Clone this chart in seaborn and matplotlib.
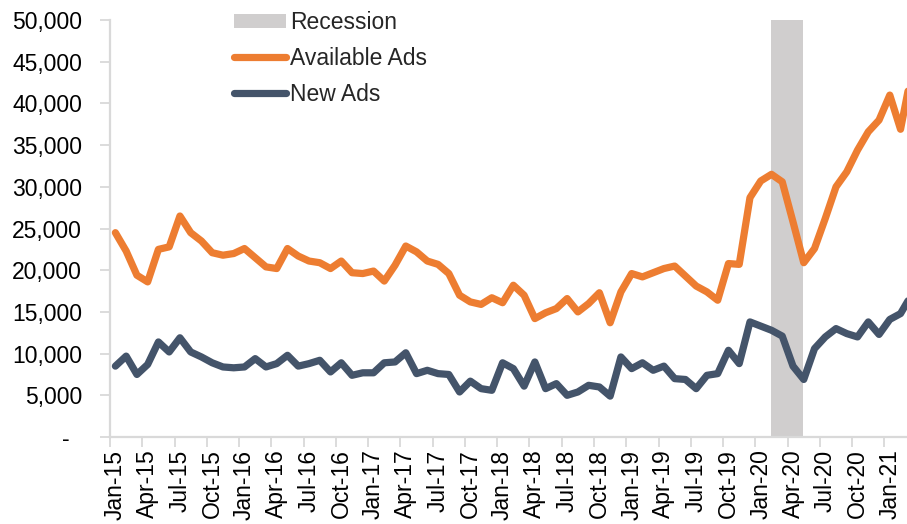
import matplotlib
matplotlib.use("Agg")
import matplotlib.pyplot as plt
from matplotlib.lines import Line2D
from matplotlib.patches import Patch
from matplotlib.ticker import FixedLocator, FuncFormatter
import numpy as np
import pandas as pd
import seaborn as sns

# Monthly ad counts, Jan-15 through Mar-21
months = pd.date_range("2015-01-01", "2021-03-01", freq="MS").strftime("%b-%y").tolist()

available_ads = [
    24500, 22300, 19400, 18600, 22500, 22800, 26500, 24500, 23500, 22100, 21800, 22000,
    22600, 21500, 20400, 20200, 22600, 21700, 21100, 20900, 20200, 21100, 19700, 19600,
    19900, 18700, 20600, 22900, 22200, 21100, 20700, 19600, 17000, 16200, 15900, 16700,
    16100, 18200, 17000, 14200, 14900, 15400, 16600, 15000, 16000, 17300, 13700, 17400,
    19600, 19200, 19700, 20200, 20500, 19300, 18100, 17400, 16400, 20800, 20700, 28700,
    30700, 31500, 30600, 25800, 20900, 22600, 26200, 30000, 31800, 34400, 36600, 38000,
    41000, 36900, 43500,
]

new_ads = [
    8500, 9700, 7500, 8700, 11400, 10200, 11900, 10200, 9600, 8900, 8400, 8300,
    8400, 9400, 8400, 8800, 9800, 8500, 8800, 9200, 7800, 8900, 7400, 7700,
    7700, 8900, 9000, 10100, 7600, 8000, 7600, 7500, 5400, 6700, 5800, 5600,
    8900, 8200, 6100, 9000, 5800, 6400, 5000, 5400, 6200, 6000, 4900, 9600,
    8200, 8900, 8000, 8500, 7000, 6900, 5800, 7400, 7600, 10400, 8800, 13800,
    13300, 12800, 12100, 8500, 6900, 10600, 12000, 13000, 12400, 12000, 13800, 12300,
    14100, 14800, 17000,
]

# Recession months (Feb-20 to Apr-20)
recession_months = ["Feb-20", "Mar-20", "Apr-20"]

series_names = ["Available Ads", "New Ads"]
series_colors = {"Available Ads": "#ED7D31", "New Ads": "#44546A"}
recession_color = "#D0CECE"

df = pd.DataFrame({
    "idx": list(range(len(months))) * 2,
    "value": available_ads + new_ads,
    "series": [series_names[0]] * len(months) + [series_names[1]] * len(months),
})

sns.set_theme(style="white")
plt.rcParams["font.family"] = ["Liberation Sans", "DejaVu Sans"]

fig = plt.figure(figsize=(9.07, 5.24), dpi=100)
ax = fig.add_axes([0.1213, 0.166, 1.0 - 0.1213, 0.9618 - 0.166])

# Shaded recession period
r0 = months.index(recession_months[0])
r1 = months.index(recession_months[-1])
ax.axvspan(r0, r1 + 0.9, color=recession_color, lw=0, zorder=1)

sns.lineplot(
    data=df, x="idx", y="value", hue="series", palette=series_colors,
    linewidth=5.2, legend=False, ax=ax, zorder=3,
    solid_capstyle="round", solid_joinstyle="round",
)

ax.set_xlim(-0.5, 73.6)
ax.set_ylim(0, 50000)

# Y axis: accounting-style labels
ax.yaxis.set_major_locator(FixedLocator(np.arange(0, 50001, 5000)))
ax.yaxis.set_major_formatter(FuncFormatter(lambda v, p: "-  " if v == 0 else f"{v:,.0f}"))

# X axis: labels every quarter, tick marks between categories
label_pos = list(range(0, len(months), 3))
ax.xaxis.set_major_locator(FixedLocator(label_pos))
ax.set_xticklabels([months[i] for i in label_pos], rotation=90)
ax.xaxis.set_minor_locator(FixedLocator([p - 0.5 for p in label_pos]))

label_size = 16.5
ax.tick_params(axis="y", which="major", length=7, width=1.3, color="#D9D9D9",
               pad=13, labelsize=label_size, labelcolor="black", left=True)
ax.tick_params(axis="x", which="major", length=0, pad=9,
               labelsize=label_size, labelcolor="black", bottom=True)
ax.tick_params(axis="x", which="minor", length=7, width=1.3, color="#D9D9D9", bottom=True)

ax.set_xlabel("")
ax.set_ylabel("")
for side in ["top", "right"]:
    ax.spines[side].set_visible(False)
for side in ["left", "bottom"]:
    ax.spines[side].set_color("#D9D9D9")
    ax.spines[side].set_linewidth(1.6)
ax.grid(False)

handles = [
    Patch(facecolor=recession_color, edgecolor="none"),
    Line2D([], [], color=series_colors["Available Ads"], lw=5.2, solid_capstyle="round"),
    Line2D([], [], color=series_colors["New Ads"], lw=5.2, solid_capstyle="round"),
]
labels = ["Recession"] + series_names
ax.legend(
    handles, labels, loc="upper left", bbox_to_anchor=(234 / 907, 1 - 11 / 524),
    bbox_transform=fig.transFigure, frameon=False, borderpad=0, borderaxespad=0,
    fontsize=label_size, handlelength=2.25, handleheight=0.55, handletextpad=0.2,
    labelspacing=0.56,
)

fig.savefig("out.png", dpi=100)
